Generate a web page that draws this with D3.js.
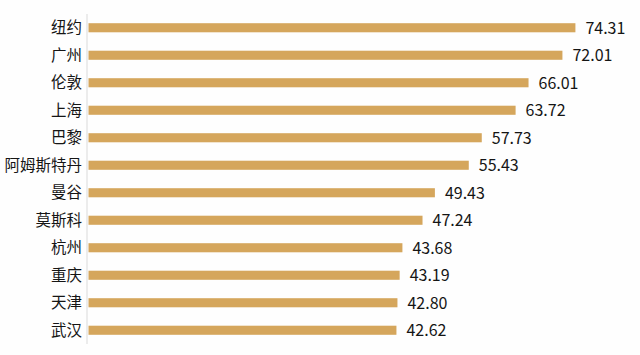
<!DOCTYPE html>
<html><head><meta charset="utf-8">
<script src="https://cdn.jsdelivr.net/npm/d3@7"></script>
<style>
html,body{margin:0;padding:0;background:#fff;}
svg{display:block;}
text{font-family:"Noto Sans CJK SC","Noto Sans",sans-serif;}
</style></head>
<body><svg id="c" width="640" height="355"></svg>
<script>
const cities = ["纽约","广州","伦敦","上海","巴黎","阿姆斯特丹","曼谷","莫斯科","杭州","重庆","天津","武汉"];
const values = [74.31,72.01,66.01,63.72,57.73,55.43,49.43,47.24,43.68,43.19,42.80,42.62];

const svg = d3.select("#c");
const x = d3.scaleLinear().domain([-11.9, 80]).range([88.5, 88.5 + 91.9*5.648]);
const y = d3.scaleBand().domain(cities).range([14, 344]).paddingInner(0.67).paddingOuter(0.335);

svg.append("rect").attr("width",640).attr("height",355).attr("fill","#fefefe");
svg.append("line").attr("x1",87).attr("x2",87).attr("y1",14).attr("y2",344)
  .attr("stroke","#e6e6e6").attr("stroke-width",1.5);

const data = cities.map((c,i)=>({c, v: values[i]}));
svg.selectAll("rect.bar").data(data).enter().append("rect").attr("class","bar")
  .attr("x", x(-11.9)).attr("y", d=>y(d.c)).attr("height", y.bandwidth())
  .attr("width", d=>x(d.v)-x(-11.9)).attr("fill","#D5A65C");

svg.selectAll("text.cat").data(data).enter().append("text").attr("class","cat")
  .attr("x", 82).attr("y", d=>y(d.c)+y.bandwidth()/2).attr("dy","0.36em")
  .attr("text-anchor","end").attr("font-size",15.5).attr("fill","#151515").text(d=>d.c);

svg.selectAll("text.val").data(data).enter().append("text").attr("class","val")
  .attr("x", d=>x(d.v)+10).attr("y", d=>y(d.c)+y.bandwidth()/2).attr("dy","0.36em")
  .attr("font-size",16).attr("fill","#151515").text(d=>d3.format(".2f")(d.v));
</script></body></html>
